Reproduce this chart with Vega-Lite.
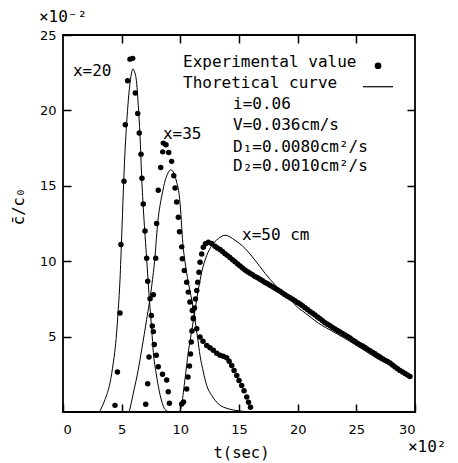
{
  "$schema": "https://vega.github.io/schema/vega-lite/v6.json",
  "width": 352,
  "height": 377,
  "autosize": "none",
  "padding": {"left": 63, "top": 35, "right": 43, "bottom": 51},
  "background": "white",
  "config": {
    "view": {"stroke": "black", "strokeWidth": 1.8},
    "axis": {
      "grid": false, "domain": false,
      "labelFont": "DejaVu Sans", "labelFontSize": 13, "labelColor": "black",
      "tickColor": "black", "tickWidth": 1.5, "tickSize": 8, "offset": -8,
      "titleFont": "DejaVu Sans Mono", "titleFontSize": 15.5, "titleFontWeight": "normal", "titleColor": "black"
    }
  },
  "datasets": {
    "dots": [
      {"curve": "x20", "t": 4.43, "c": 0.44}, {"curve": "x20", "t": 4.64, "c": 2.65}, {"curve": "x20", "t": 4.86, "c": 6.57},
      {"curve": "x20", "t": 4.94, "c": 11.1}, {"curve": "x20", "t": 5.2, "c": 15.3}, {"curve": "x20", "t": 5.31, "c": 19.05},
      {"curve": "x20", "t": 5.51, "c": 21.96}, {"curve": "x20", "t": 5.71, "c": 23.4}, {"curve": "x20", "t": 5.94, "c": 23.45},
      {"curve": "x20", "t": 6.16, "c": 21.15}, {"curve": "x20", "t": 6.37, "c": 19.8}, {"curve": "x20", "t": 6.5, "c": 18.5},
      {"curve": "x20", "t": 6.65, "c": 17.1}, {"curve": "x20", "t": 6.73, "c": 15.5}, {"curve": "x20", "t": 6.84, "c": 13.8},
      {"curve": "x20", "t": 6.99, "c": 12.0}, {"curve": "x20", "t": 7.13, "c": 10.2}, {"curve": "x20", "t": 7.22, "c": 8.67},
      {"curve": "x20", "t": 7.42, "c": 7.51}, {"curve": "x20", "t": 7.53, "c": 6.4}, {"curve": "x20", "t": 7.61, "c": 5.71},
      {"curve": "x20", "t": 7.7, "c": 5.33}, {"curve": "x20", "t": 7.78, "c": 4.47}, {"curve": "x20", "t": 7.95, "c": 3.77},
      {"curve": "x20", "t": 8.12, "c": 3.0}, {"curve": "x20", "t": 8.48, "c": 2.5}, {"curve": "x20", "t": 8.84, "c": 2.12},
      {"curve": "x20", "t": 8.97, "c": 1.35}, {"curve": "x20", "t": 9.07, "c": 0.58},
      {"curve": "x35", "t": 7.05, "c": 0.51}, {"curve": "x35", "t": 7.22, "c": 1.87}, {"curve": "x35", "t": 7.33, "c": 3.64},
      {"curve": "x35", "t": 7.7, "c": 7.77}, {"curve": "x35", "t": 7.9, "c": 10.2}, {"curve": "x35", "t": 7.98, "c": 12.5},
      {"curve": "x35", "t": 8.12, "c": 14.7}, {"curve": "x35", "t": 8.33, "c": 16.22}, {"curve": "x35", "t": 8.5, "c": 17.25},
      {"curve": "x35", "t": 8.55, "c": 17.83}, {"curve": "x35", "t": 8.78, "c": 17.72}, {"curve": "x35", "t": 9.01, "c": 17.21},
      {"curve": "x35", "t": 9.26, "c": 16.62}, {"curve": "x35", "t": 9.44, "c": 15.67}, {"curve": "x35", "t": 9.55, "c": 14.85},
      {"curve": "x35", "t": 9.69, "c": 13.92}, {"curve": "x35", "t": 9.83, "c": 12.92}, {"curve": "x35", "t": 9.93, "c": 11.95},
      {"curve": "x35", "t": 10.12, "c": 10.95}, {"curve": "x35", "t": 10.17, "c": 10.16}, {"curve": "x35", "t": 10.34, "c": 9.38},
      {"curve": "x35", "t": 10.54, "c": 8.61}, {"curve": "x35", "t": 10.68, "c": 7.95}, {"curve": "x35", "t": 10.82, "c": 7.29},
      {"curve": "x35", "t": 11.02, "c": 6.73}, {"curve": "x35", "t": 11.11, "c": 6.18}, {"curve": "x35", "t": 11.4, "c": 5.52},
      {"curve": "x35", "t": 11.68, "c": 4.97}, {"curve": "x35", "t": 11.93, "c": 4.69}, {"curve": "x35", "t": 12.25, "c": 4.41},
      {"curve": "x35", "t": 12.53, "c": 4.26}, {"curve": "x35", "t": 12.81, "c": 4.09}, {"curve": "x35", "t": 13.1, "c": 3.89},
      {"curve": "x35", "t": 13.38, "c": 3.76}, {"curve": "x35", "t": 13.66, "c": 3.69}, {"curve": "x35", "t": 13.95, "c": 3.59},
      {"curve": "x35", "t": 14.16, "c": 3.36}, {"curve": "x35", "t": 14.38, "c": 3.08}, {"curve": "x35", "t": 14.58, "c": 2.75},
      {"curve": "x35", "t": 14.81, "c": 2.42}, {"curve": "x35", "t": 15.0, "c": 2.09}, {"curve": "x35", "t": 15.23, "c": 1.76},
      {"curve": "x35", "t": 15.43, "c": 1.41}, {"curve": "x35", "t": 15.66, "c": 0.99}, {"curve": "x35", "t": 15.81, "c": 0.64},
      {"curve": "x35", "t": 15.98, "c": 0.32},
      {"curve": "x50", "t": 10.12, "c": 0.53}, {"curve": "x50", "t": 10.27, "c": 0.66}, {"curve": "x50", "t": 10.54, "c": 1.53},
      {"curve": "x50", "t": 10.65, "c": 2.32}, {"curve": "x50", "t": 10.78, "c": 3.05}, {"curve": "x50", "t": 10.87, "c": 3.85},
      {"curve": "x50", "t": 10.93, "c": 4.64}, {"curve": "x50", "t": 10.99, "c": 5.37}, {"curve": "x50", "t": 11.11, "c": 6.23},
      {"curve": "x50", "t": 11.21, "c": 6.9}, {"curve": "x50", "t": 11.29, "c": 7.49}, {"curve": "x50", "t": 11.4, "c": 8.05},
      {"curve": "x50", "t": 11.48, "c": 8.6}, {"curve": "x50", "t": 11.59, "c": 9.27}, {"curve": "x50", "t": 11.68, "c": 9.93},
      {"curve": "x50", "t": 11.82, "c": 10.48}, {"curve": "x50", "t": 11.96, "c": 10.93}, {"curve": "x50", "t": 12.14, "c": 11.15},
      {"curve": "x50", "t": 12.38, "c": 11.25}, {"curve": "x50", "t": 12.67, "c": 11.18}, {"curve": "x50", "t": 12.95, "c": 10.99},
      {"curve": "x50", "t": 13.16, "c": 10.88}, {"curve": "x50", "t": 13.38, "c": 10.77}, {"curve": "x50", "t": 13.59, "c": 10.64},
      {"curve": "x50", "t": 13.81, "c": 10.5}, {"curve": "x50", "t": 14.02, "c": 10.37}, {"curve": "x50", "t": 14.23, "c": 10.24},
      {"curve": "x50", "t": 14.45, "c": 10.1}, {"curve": "x50", "t": 14.66, "c": 9.96}, {"curve": "x50", "t": 14.88, "c": 9.82},
      {"curve": "x50", "t": 15.09, "c": 9.68}, {"curve": "x50", "t": 15.3, "c": 9.55}, {"curve": "x50", "t": 15.51, "c": 9.41},
      {"curve": "x50", "t": 15.73, "c": 9.3}, {"curve": "x50", "t": 15.94, "c": 9.2}, {"curve": "x50", "t": 16.15, "c": 9.1},
      {"curve": "x50", "t": 16.36, "c": 8.99}, {"curve": "x50", "t": 16.58, "c": 8.9}, {"curve": "x50", "t": 16.79, "c": 8.8},
      {"curve": "x50", "t": 17.0, "c": 8.7}, {"curve": "x50", "t": 17.22, "c": 8.59}, {"curve": "x50", "t": 17.43, "c": 8.5},
      {"curve": "x50", "t": 17.64, "c": 8.41}, {"curve": "x50", "t": 17.86, "c": 8.31}, {"curve": "x50", "t": 18.07, "c": 8.21},
      {"curve": "x50", "t": 18.28, "c": 8.11}, {"curve": "x50", "t": 18.49, "c": 8.01}, {"curve": "x50", "t": 18.71, "c": 7.89},
      {"curve": "x50", "t": 18.92, "c": 7.77}, {"curve": "x50", "t": 19.13, "c": 7.67}, {"curve": "x50", "t": 19.35, "c": 7.57},
      {"curve": "x50", "t": 19.56, "c": 7.47}, {"curve": "x50", "t": 19.77, "c": 7.37}, {"curve": "x50", "t": 19.99, "c": 7.26},
      {"curve": "x50", "t": 20.2, "c": 7.16}, {"curve": "x50", "t": 20.41, "c": 7.04}, {"curve": "x50", "t": 20.63, "c": 6.91},
      {"curve": "x50", "t": 20.84, "c": 6.79}, {"curve": "x50", "t": 21.05, "c": 6.67}, {"curve": "x50", "t": 21.27, "c": 6.55},
      {"curve": "x50", "t": 21.48, "c": 6.43}, {"curve": "x50", "t": 21.69, "c": 6.3}, {"curve": "x50", "t": 21.9, "c": 6.18},
      {"curve": "x50", "t": 22.12, "c": 6.05}, {"curve": "x50", "t": 22.33, "c": 5.92}, {"curve": "x50", "t": 22.55, "c": 5.82},
      {"curve": "x50", "t": 22.76, "c": 5.72}, {"curve": "x50", "t": 22.97, "c": 5.61}, {"curve": "x50", "t": 23.18, "c": 5.51},
      {"curve": "x50", "t": 23.4, "c": 5.41}, {"curve": "x50", "t": 23.61, "c": 5.31}, {"curve": "x50", "t": 23.82, "c": 5.2},
      {"curve": "x50", "t": 24.03, "c": 5.1}, {"curve": "x50", "t": 24.25, "c": 5.0}, {"curve": "x50", "t": 24.46, "c": 4.9},
      {"curve": "x50", "t": 24.68, "c": 4.78}, {"curve": "x50", "t": 24.89, "c": 4.67}, {"curve": "x50", "t": 25.1, "c": 4.56},
      {"curve": "x50", "t": 25.31, "c": 4.46}, {"curve": "x50", "t": 25.53, "c": 4.37}, {"curve": "x50", "t": 25.74, "c": 4.28},
      {"curve": "x50", "t": 25.95, "c": 4.17}, {"curve": "x50", "t": 26.17, "c": 4.07}, {"curve": "x50", "t": 26.38, "c": 3.96},
      {"curve": "x50", "t": 26.59, "c": 3.86}, {"curve": "x50", "t": 26.8, "c": 3.75}, {"curve": "x50", "t": 27.02, "c": 3.65},
      {"curve": "x50", "t": 27.23, "c": 3.54}, {"curve": "x50", "t": 27.44, "c": 3.44}, {"curve": "x50", "t": 27.66, "c": 3.35},
      {"curve": "x50", "t": 27.87, "c": 3.25}, {"curve": "x50", "t": 28.08, "c": 3.12}, {"curve": "x50", "t": 28.3, "c": 2.99},
      {"curve": "x50", "t": 28.51, "c": 2.87}, {"curve": "x50", "t": 28.72, "c": 2.76}, {"curve": "x50", "t": 28.94, "c": 2.65},
      {"curve": "x50", "t": 29.15, "c": 2.55}, {"curve": "x50", "t": 29.36, "c": 2.45}, {"curve": "x50", "t": 29.57, "c": 2.36}
    ],
    "theory": [
      {"curve": "x20", "t": 3.1, "c": 0}, {"curve": "x20", "t": 3.58, "c": 0.83}, {"curve": "x20", "t": 4.01, "c": 1.95},
      {"curve": "x20", "t": 4.29, "c": 3.28}, {"curve": "x20", "t": 4.52, "c": 4.8}, {"curve": "x20", "t": 4.71, "c": 6.8},
      {"curve": "x20", "t": 4.86, "c": 8.8}, {"curve": "x20", "t": 5.0, "c": 11.6}, {"curve": "x20", "t": 5.14, "c": 14.6},
      {"curve": "x20", "t": 5.28, "c": 17.2}, {"curve": "x20", "t": 5.43, "c": 19.2}, {"curve": "x20", "t": 5.57, "c": 20.7},
      {"curve": "x20", "t": 5.71, "c": 21.8}, {"curve": "x20", "t": 5.86, "c": 22.55}, {"curve": "x20", "t": 5.95, "c": 22.75},
      {"curve": "x20", "t": 6.08, "c": 22.6}, {"curve": "x20", "t": 6.28, "c": 21.8}, {"curve": "x20", "t": 6.42, "c": 20.3},
      {"curve": "x20", "t": 6.56, "c": 18.4}, {"curve": "x20", "t": 6.71, "c": 15.5}, {"curve": "x20", "t": 6.87, "c": 13.2},
      {"curve": "x20", "t": 7.13, "c": 10.16}, {"curve": "x20", "t": 7.36, "c": 7.47}, {"curve": "x20", "t": 7.56, "c": 5.48},
      {"curve": "x20", "t": 7.7, "c": 3.94}, {"curve": "x20", "t": 7.93, "c": 2.61}, {"curve": "x20", "t": 8.12, "c": 1.72},
      {"curve": "x20", "t": 8.41, "c": 0.72}, {"curve": "x20", "t": 8.69, "c": 0.17}, {"curve": "x20", "t": 9.1, "c": 0},
      {"curve": "x35", "t": 5.65, "c": 0}, {"curve": "x35", "t": 6.0, "c": 1.27}, {"curve": "x35", "t": 6.42, "c": 2.83},
      {"curve": "x35", "t": 6.71, "c": 4.15}, {"curve": "x35", "t": 7.13, "c": 6.14}, {"curve": "x35", "t": 7.56, "c": 8.35},
      {"curve": "x35", "t": 7.84, "c": 10.3}, {"curve": "x35", "t": 8.0, "c": 11.9}, {"curve": "x35", "t": 8.12, "c": 12.9},
      {"curve": "x35", "t": 8.27, "c": 13.7}, {"curve": "x35", "t": 8.49, "c": 14.6}, {"curve": "x35", "t": 8.69, "c": 15.3},
      {"curve": "x35", "t": 8.89, "c": 15.75}, {"curve": "x35", "t": 9.18, "c": 16.05}, {"curve": "x35", "t": 9.4, "c": 15.93},
      {"curve": "x35", "t": 9.69, "c": 15.23}, {"curve": "x35", "t": 9.91, "c": 14.35}, {"curve": "x35", "t": 10.05, "c": 13.1},
      {"curve": "x35", "t": 10.18, "c": 11.5}, {"curve": "x35", "t": 10.4, "c": 9.94}, {"curve": "x35", "t": 10.68, "c": 8.6},
      {"curve": "x35", "t": 11.11, "c": 6.84}, {"curve": "x35", "t": 11.32, "c": 5.74}, {"curve": "x35", "t": 11.48, "c": 4.86},
      {"curve": "x35", "t": 11.68, "c": 3.75}, {"curve": "x35", "t": 11.96, "c": 2.65}, {"curve": "x35", "t": 12.25, "c": 1.76},
      {"curve": "x35", "t": 12.68, "c": 1.09}, {"curve": "x35", "t": 13.24, "c": 0.54}, {"curve": "x35", "t": 14.1, "c": 0.21},
      {"curve": "x35", "t": 14.95, "c": 0.08}, {"curve": "x35", "t": 15.94, "c": 0},
      {"curve": "x50", "t": 9.97, "c": 0}, {"curve": "x50", "t": 10.12, "c": 0.54}, {"curve": "x50", "t": 10.4, "c": 2.2},
      {"curve": "x50", "t": 10.68, "c": 3.97}, {"curve": "x50", "t": 10.91, "c": 5.1}, {"curve": "x50", "t": 11.12, "c": 6.1},
      {"curve": "x50", "t": 11.4, "c": 7.5}, {"curve": "x50", "t": 11.82, "c": 9.27}, {"curve": "x50", "t": 12.25, "c": 10.38},
      {"curve": "x50", "t": 12.68, "c": 11.04}, {"curve": "x50", "t": 13.24, "c": 11.5}, {"curve": "x50", "t": 13.81, "c": 11.72},
      {"curve": "x50", "t": 14.66, "c": 11.39}, {"curve": "x50", "t": 15.51, "c": 10.85}, {"curve": "x50", "t": 16.36, "c": 10.07},
      {"curve": "x50", "t": 17.22, "c": 9.2}, {"curve": "x50", "t": 18.07, "c": 8.43}, {"curve": "x50", "t": 18.49, "c": 8.1},
      {"curve": "x50", "t": 19.2, "c": 7.67}, {"curve": "x50", "t": 19.77, "c": 7.11}, {"curve": "x50", "t": 20.63, "c": 6.57},
      {"curve": "x50", "t": 21.76, "c": 5.9}, {"curve": "x50", "t": 23.18, "c": 5.26}, {"curve": "x50", "t": 24.61, "c": 4.61},
      {"curve": "x50", "t": 25.74, "c": 4.06}, {"curve": "x50", "t": 26.87, "c": 3.5}, {"curve": "x50", "t": 28.01, "c": 3.06},
      {"curve": "x50", "t": 28.87, "c": 2.74}, {"curve": "x50", "t": 29.72, "c": 2.37}
    ],
    "notes": [
      {"text": "x=20", "t": 0.85, "c": 22.6},
      {"text": "x=35", "t": 8.52, "c": 18.45},
      {"text": "x=50 cm", "t": 15.26, "c": 11.72},
      {"text": "Experimental value", "t": 10.23, "c": 23.2},
      {"text": "Thoretical curve", "t": 10.23, "c": 21.85},
      {"text": "i=0.06", "t": 14.49, "c": 20.45},
      {"text": "V=0.036cm/s", "t": 14.49, "c": 19.0},
      {"text": "D₁=0.0080cm²/s", "t": 14.49, "c": 17.6},
      {"text": "D₂=0.0010cm²/s", "t": 14.49, "c": 16.3},
      {"text": "×10⁻²", "t": -2.05, "c": 26.2},
      {"text": "×10²", "t": 29.4, "c": -2.3}
    ],
    "legendDot": [{"t": 26.85, "c": 22.96}],
    "legendLine": [{"t": 25.57, "t2": 28.13, "c": 21.57}]
  },
  "layer": [
    {
      "data": {"name": "dots"},
      "mark": {"type": "point", "filled": true, "color": "black", "size": 30, "opacity": 1},
      "encoding": {
        "x": {"field": "t", "type": "quantitative", "scale": {"domain": [0, 30], "nice": false, "zero": false},
          "axis": {"orient": "bottom", "values": [0, 5, 10, 15, 20, 25, 30], "labelPadding": 11, "title": "t(sec)",
            "titleX": 178, "titleY": 48, "titleAlign": "center", "titleBaseline": "middle"}},
        "y": {"field": "c", "type": "quantitative", "scale": {"domain": [0, 25], "nice": false, "zero": false},
          "axis": {"orient": "left", "values": [5, 10, 15, 20, 25], "labelPadding": 7, "title": "c̄/c₀",
            "titleX": -53, "titleY": 171, "titleAngle": -90, "titleAlign": "center", "titleBaseline": "middle"}}
      }
    },
    {
      "data": {"name": "theory"},
      "mark": {"type": "line", "color": "black", "strokeWidth": 1, "interpolate": "monotone"},
      "encoding": {
        "x": {"field": "t", "type": "quantitative",
          "axis": {"orient": "top", "values": [5, 10, 15, 20, 25], "labels": false, "title": null}},
        "y": {"field": "c", "type": "quantitative",
          "axis": {"orient": "right", "values": [5, 10, 15, 20], "labels": false, "title": null}},
        "detail": {"field": "curve"}
      }
    },
    {
      "data": {"name": "notes"},
      "mark": {"type": "text", "align": "left", "baseline": "middle", "font": "DejaVu Sans Mono", "fontSize": 16, "color": "black"},
      "encoding": {
        "x": {"field": "t", "type": "quantitative", "axis": null},
        "y": {"field": "c", "type": "quantitative", "axis": null},
        "text": {"field": "text"}
      }
    },
    {
      "data": {"name": "legendDot"},
      "mark": {"type": "point", "filled": true, "color": "black", "size": 45, "opacity": 1},
      "encoding": {
        "x": {"field": "t", "type": "quantitative", "axis": null},
        "y": {"field": "c", "type": "quantitative", "axis": null}
      }
    },
    {
      "data": {"name": "legendLine"},
      "mark": {"type": "rule", "color": "black", "strokeWidth": 1.2},
      "encoding": {
        "x": {"field": "t", "type": "quantitative", "axis": null},
        "x2": {"field": "t2"},
        "y": {"field": "c", "type": "quantitative", "axis": null}
      }
    }
  ],
  "resolve": {"axis": {"x": "independent", "y": "independent"}}
}
